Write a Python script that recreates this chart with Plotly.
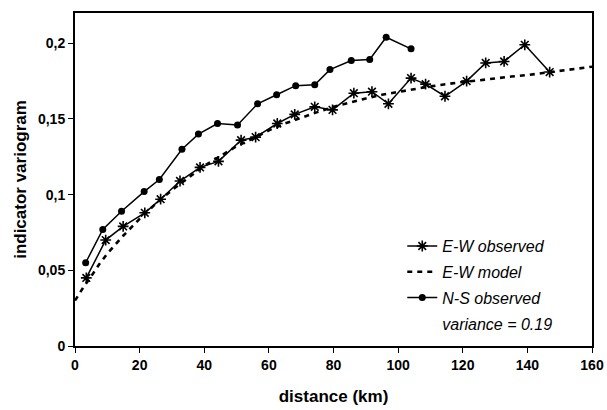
import plotly.graph_objects as go

# E-W observed indicator variogram
ew_dist = [3.5, 9.5, 14.9, 21.6, 26.5, 32.5, 38.7, 44.4, 51.4, 55.9, 62.6, 68.0, 74.2,
           79.7, 86.3, 91.9, 97.0, 104.0, 108.5, 114.5, 121.2, 127.1, 132.8, 139.2, 146.9]
ew_gamma = [0.045, 0.070, 0.079, 0.088, 0.097, 0.109, 0.118, 0.122, 0.136, 0.138, 0.147, 0.153, 0.158,
            0.156, 0.167, 0.168, 0.160, 0.177, 0.173, 0.165, 0.175, 0.187, 0.188, 0.199, 0.181]

# N-S observed indicator variogram
ns_dist = [3.3, 8.6, 14.4, 21.4, 26.1, 33.1, 38.2, 44.1, 50.3, 56.5, 62.4, 68.3, 74.2,
           78.9, 85.5, 91.2, 96.3, 104.0]
ns_gamma = [0.055, 0.077, 0.089, 0.102, 0.110, 0.130, 0.140, 0.147, 0.146, 0.160, 0.166, 0.172, 0.1726,
            0.1826, 0.1886, 0.1893, 0.204, 0.1963]

# E-W model curve
model_dist = [0, 2.5, 5, 7.5, 10, 15, 20, 25, 30, 35, 40, 45, 50, 55, 60, 65, 70, 75, 80, 85, 90,
              95, 100, 105, 110, 115, 120, 125, 130, 135, 140, 145, 150, 155, 160]
model_gamma = [0.030, 0.0385, 0.046, 0.054, 0.061, 0.073, 0.084, 0.094, 0.103, 0.111, 0.119, 0.1255,
               0.132, 0.137, 0.1425, 0.147, 0.151, 0.1545, 0.158, 0.161, 0.1635, 0.166, 0.168, 0.170,
               0.1715, 0.173, 0.1745, 0.1755, 0.177, 0.178, 0.179, 0.1805, 0.1815, 0.183, 0.1845]

x_ticks = [0, 20, 40, 60, 80, 100, 120, 140, 160]
y_ticks = [0, 0.05, 0.1, 0.15, 0.2]
y_ticktext = ["0", "0,05", "0,1", "0,15", "0,2"]
variance_label = "variance = 0.19"

FONT = "Liberation Sans, Arial, sans-serif"

fig = go.Figure()
fig.add_trace(go.Scatter(
    x=ew_dist, y=ew_gamma, mode="lines+markers", name="E-W observed",
    line=dict(color="black", width=1.5),
    marker=dict(symbol="asterisk-open", size=9, color="black", line=dict(color="black", width=1.6)),
    legendgroup="a"))
fig.add_trace(go.Scatter(
    x=model_dist, y=model_gamma, mode="lines", name="E-W model",
    line=dict(color="black", width=2.6, dash="5px,5px"),
    legendgroup="b"))
fig.add_trace(go.Scatter(
    x=ns_dist, y=ns_gamma, mode="lines+markers", name="N-S observed",
    line=dict(color="black", width=1.5),
    marker=dict(symbol="circle", size=7, color="black"),
    legendgroup="c"))
fig.add_trace(go.Scatter(
    x=[None], y=[None], mode="lines", name=variance_label,
    line=dict(color="rgba(0,0,0,0)", width=0),
    legendgroup="d"))

fig.update_layout(
    width=607, height=410,
    margin=dict(l=75, r=15, t=13, b=64),
    paper_bgcolor="white", plot_bgcolor="white",
    font=dict(family=FONT, color="black"),
    showlegend=True,
    legend=dict(
        x=0.633, y=0.351, xanchor="left", yanchor="top",
        bgcolor="rgba(0,0,0,0)", borderwidth=0,
        font=dict(family=FONT, size=16, style="italic", color="black"),
        tracegroupgap=2,
    ),
    xaxis=dict(
        range=[0, 160], tickvals=x_ticks, ticks="outside", ticklen=5, tickcolor="black",
        showline=True, linecolor="black", linewidth=2, mirror=True, showgrid=False, zeroline=False,
        automargin=False,
        tickfont=dict(family=FONT, size=14, weight="bold"),
        title=dict(text="distance (km)", font=dict(family=FONT, size=17, weight="bold"), standoff=18),
    ),
    yaxis=dict(
        range=[0, 0.22], tickvals=y_ticks, ticktext=y_ticktext, ticks="outside", ticklen=5,
        tickcolor="black",
        showline=True, linecolor="black", linewidth=2, mirror=True, showgrid=False, zeroline=False,
        automargin=False,
        tickfont=dict(family=FONT, size=14, weight="bold"),
        title=dict(text="indicator variogram", font=dict(family=FONT, size=17, weight="bold"), standoff=7),
    ),
)

fig.write_html("out.html")
